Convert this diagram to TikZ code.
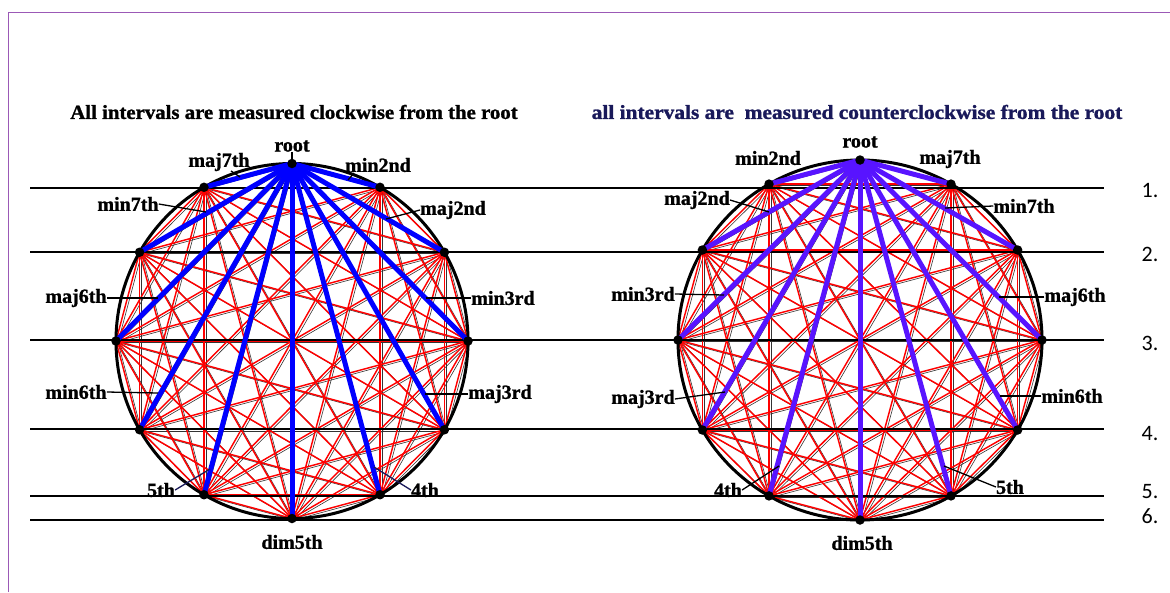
\documentclass[tikz,border=0pt]{standalone}
\usepackage{fontspec}
\usepackage{graphicx}
\setmainfont{Liberation Serif}[BoldFeatures={FakeBold=1.2}]
\newfontfamily\numfont{Carlito}
\usetikzlibrary{calc}
\definecolor{lblue}{RGB}{0,0,255}
\definecolor{rblue}{RGB}{88,20,255}
\definecolor{redl}{RGB}{255,0,0}
\definecolor{framec}{RGB}{155,89,182}
\definecolor{navy}{RGB}{25,25,90}
\tikzset{
 vdot/.style={circle,fill=black,inner sep=0pt,minimum size=9.5pt},
 chord/.style={redl,line width=1.45pt},
 ghost/.style={black!80,line width=0.6pt},
 spoke/.style={line width=5pt},
 rim/.style={black,line width=3pt},
 guide/.style={black,line width=1.2pt},
 lab/.style={font=\bfseries\fontsize{20}{20}\selectfont,inner sep=0pt},
 leader/.style={black,line width=1.3pt},
 ttl/.style={font=\bfseries\fontsize{20}{20}\selectfont,inner sep=0pt},
 num/.style={font=\numfont\fontsize{22}{22}\selectfont,inner sep=0pt}
}
\begin{document}
\begin{tikzpicture}[x=1pt,y=-1pt]
\useasboundingbox (0,0) rectangle (1170,592);
\fill[white] (0,0) rectangle (1170,592);
\draw[framec,line width=1pt] (8.5,592) -- (8.5,12.5) -- (1170,12.5);

% titles
\node[ttl] (t1) at (294,112) {\scalebox{1.04}[1]{All intervals are measured clockwise from the root}};
\node[ttl,text=navy] (t2) at (857,112) {\scalebox{1.07}[1]{all intervals are\ \ measured counterclockwise from the root}};

% vertices
\foreach \i in {0,...,11}{
  \coordinate (L\i) at ({292+176*sin(30*\i)},{341-177.5*cos(30*\i)});
  \coordinate (R\i) at ({860+182*sin(30*\i)},{340-180*cos(30*\i)});
}

% ghost chords and red chords
\foreach \i in {0,...,10}{
  \pgfmathtruncatemacro\ip{\i+1}
  \foreach \j in {\ip,...,11}{
    \draw[ghost] ($(L\i)+(2,1.5)$) -- ($(L\j)+(2,1.5)$);
    \draw[ghost] ($(R\i)+(2,1.5)$) -- ($(R\j)+(2,1.5)$);
  }
}
\foreach \i in {0,...,10}{
  \pgfmathtruncatemacro\ip{\i+1}
  \foreach \j in {\ip,...,11}{
    \draw[chord] (L\i) -- (L\j);
    \draw[chord] (R\i) -- (R\j);
  }
}

% guide lines
\foreach \k/\y/\ny in {1/188/191,2/252/254,3/340/343,4/429/434,5/496/492,6/520/516}{
  \coordinate (ga\k) at (30,\y);
  \coordinate (gb\k) at (1104,\y);
  \draw[guide] (ga\k) -- (gb\k);
  \node[num] (n\k) at (1150,\ny) {\k.};
}

% rims
\draw[rim] (292,341) ellipse [x radius=176pt, y radius=177.5pt];
\draw[rim] (860,340) ellipse [x radius=182pt, y radius=180pt];

% spokes
\foreach \i in {1,...,11}{
  \draw[spoke,lblue] (L0) -- (L\i);
  \draw[spoke,rblue] (R0) -- (R\i);
}

% dots
\foreach \i in {0,...,11}{
  \node[vdot] (DL\i) at (L\i) {};
  \node[vdot] (DR\i) at (R\i) {};
}

% left labels
\node[lab] (lroot) at (292,146) {root};
\coordinate (lroote) at (292,163);
\draw[leader] (lroot.south) -- (lroote);
\node[lab] (lmaj7) at (219,162) {maj7th};
\coordinate (lmaj7e) at (240,177);
\draw[leader] (231,171) -- (lmaj7e);
\node[lab] (lmin2) at (378,165) {min2nd};
\coordinate (lmin2e) at (348,180);
\draw[leader] (354,173) -- (lmin2e);
\node[lab] (lmin7) at (128,204) {min7th};
\coordinate (lmin7e) at (206,212);
\draw[leader] (lmin7.east) -- (lmin7e);
\node[lab] (lmaj2) at (453,210) {maj2nd};
\coordinate (lmaj2e) at (386,219);
\draw[leader] (lmaj2.west) -- (lmaj2e);
\node[lab] (lmaj6) at (76,298) {maj6th};
\coordinate (lmaj6e) at (158,298);
\draw[leader] (lmaj6.east) -- (lmaj6e);
\node[lab] (lmin3) at (503,298) {min3rd};
\coordinate (lmin3e) at (426,298);
\draw[leader] (lmin3.west) -- (lmin3e);
\node[lab] (lmin6) at (76,392) {min6th};
\coordinate (lmin6e) at (158,393);
\draw[leader] (lmin6.east) -- (lmin6e);
\node[lab] (lmaj3) at (500,394) {maj3rd};
\coordinate (lmaj3e) at (425,394);
\draw[leader] (lmaj3.west) -- (lmaj3e);
\node[lab] (l5) at (161,490) {5th};
\coordinate (l5e) at (210,469);
\draw[leader,navy] (l5.east) -- (l5e);
\node[lab] (l4) at (425,490) {4th};
\coordinate (l4e) at (374,467);
\draw[leader,navy] (l4.west) -- (l4e);
\node[lab] (ldim) at (292,542) {dim5th};

% right labels
\node[lab] (rroot) at (860,142) {root};
\node[lab] (rmin2) at (768,158) {min2nd};
\node[lab] (rmaj7) at (950,159) {maj7th};
\node[lab] (rmaj2) at (697,200) {maj2nd};
\coordinate (rmaj2e) at (769,212);
\draw[leader] (rmaj2.east) -- (rmaj2e);
\node[lab] (rmin7) at (1024,206) {min7th};
\coordinate (rmin7e) at (945,208);
\draw[leader] (rmin7.west) -- (rmin7e);
\node[lab] (rmin3) at (643,294) {min3rd};
\coordinate (rmin3e) at (724,295);
\draw[leader] (rmin3.east) -- (rmin3e);
\node[lab] (rmaj3) at (643,399) {maj3rd};
\coordinate (rmaj3e) at (725,392);
\draw[leader] (rmaj3.east) -- (rmaj3e);
\node[lab] (rmaj6) at (1075,297) {maj6th};
\coordinate (rmaj6e) at (999,297);
\draw[leader] (rmaj6.west) -- (rmaj6e);
\node[lab] (rmin6) at (1072,396) {min6th};
\coordinate (rmin6e) at (1000,396);
\draw[leader] (rmin6.west) -- (rmin6e);
\node[lab] (r4) at (728,490) {4th};
\coordinate (r4e) at (779,466);
\draw[leader] (r4.east) -- (r4e);
\node[lab] (r5) at (1010,487) {5th};
\coordinate (r5e) at (944,466);
\draw[leader] (r5.west) -- (r5e);
\node[lab] (rdim) at (862,543) {dim5th};
\end{tikzpicture}
\end{document}
